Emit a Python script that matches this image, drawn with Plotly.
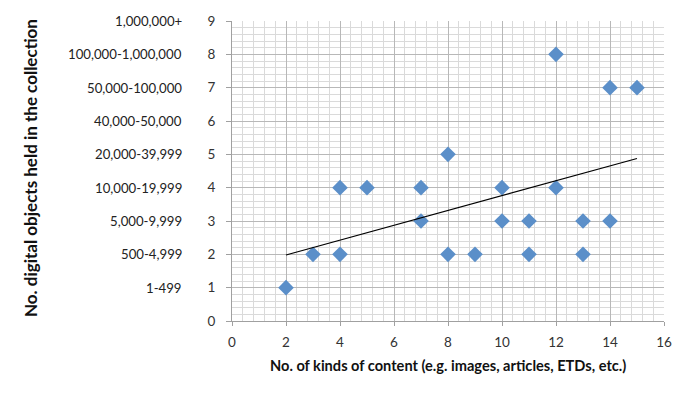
import numpy as np
import plotly.graph_objects as go

kinds = [2, 3, 4, 4, 5, 7, 7, 8, 8, 9, 10, 10, 11, 11, 12, 12, 13, 13, 14, 14, 15]
objects = [1, 2, 2, 4, 4, 4, 3, 5, 2, 2, 4, 3, 3, 2, 8, 4, 3, 2, 7, 3, 7]
range_labels = ["1-499", "500-4,999", "5,000-9,999", "10,000-19,999", "20,000-39,999",
                "40,000-50,000", "50,000-100,000", "100,000-1,000,000", "1,000,000+"]
range_levels = [1, 2, 3, 4, 5, 6, 7, 8, 9]

slope, intercept = np.polyfit(kinds, objects, 1)
tx = [min(kinds), max(kinds)]
ty = [slope * v + intercept for v in tx]

FONT = "Lato, Calibri, Carlito, sans-serif"

fig = go.Figure()
fig.add_trace(go.Scatter(x=kinds, y=objects, mode="markers",
                         marker=dict(symbol="diamond", size=12, color="#5B8FC9"),
                         showlegend=False, cliponaxis=False))
fig.add_trace(go.Scatter(x=tx, y=ty, mode="lines",
                         line=dict(color="black", width=1.2), showlegend=False))

for lvl, lab in zip(range_levels, range_labels):
    fig.add_annotation(x=0, y=lvl, xref="paper", yref="y", text=lab, showarrow=False,
                       xanchor="right", xshift=-48, font=dict(family=FONT, size=13.2, color="#222"))

fig.add_annotation(x=0.5, y=0, xref="paper", yref="paper", yshift=-44,
                   text="<b>No. of kinds of content (e.g. images, articles, ETDs, etc.)</b>",
                   showarrow=False, xanchor="center", yanchor="middle",
                   font=dict(family=FONT, size=14.6, color="#111"))
fig.add_annotation(x=0, y=0.51, xref="paper", yref="paper", xshift=-202,
                   text="<b>No. digital objects held in the collection</b>", textangle=-90,
                   showarrow=False, xanchor="center", yanchor="middle",
                   font=dict(family=FONT, size=17, color="#111"))

fig.update_layout(
    width=682, height=394,
    margin=dict(l=232, r=18, t=21, b=73, autoexpand=False),
    paper_bgcolor="white", plot_bgcolor="white",
    font=dict(family=FONT, size=13, color="#333"),
    xaxis=dict(range=[0, 16], dtick=2, tick0=0, showgrid=True, gridcolor="#b8b8b8", gridwidth=1,
               minor=dict(dtick=0.4, showgrid=True, gridcolor="#dadada", gridwidth=1),
               ticks="outside", ticklen=4, tickcolor="#a0a0a0", automargin=False,
               ticklabelstandoff=5,
               showline=True, linecolor="#a0a0a0", mirror=False, zeroline=False,
               tickfont=dict(family=FONT, size=13.5, color="#333")),
    yaxis=dict(range=[0, 9], dtick=1, tick0=0, showgrid=True, gridcolor="#b8b8b8", gridwidth=1,
               minor=dict(dtick=0.2, showgrid=True, gridcolor="#dadada", gridwidth=1),
               ticks="outside", ticklen=5, tickcolor="#a0a0a0", automargin=False,
               ticklabelstandoff=8,
               showline=True, linecolor="#a0a0a0", zeroline=False,
               tickfont=dict(family=FONT, size=13.5, color="#333")),
)
fig.write_html("out.html", config={"displayModeBar": False},
               post_script="document.body.style.margin='0';")
